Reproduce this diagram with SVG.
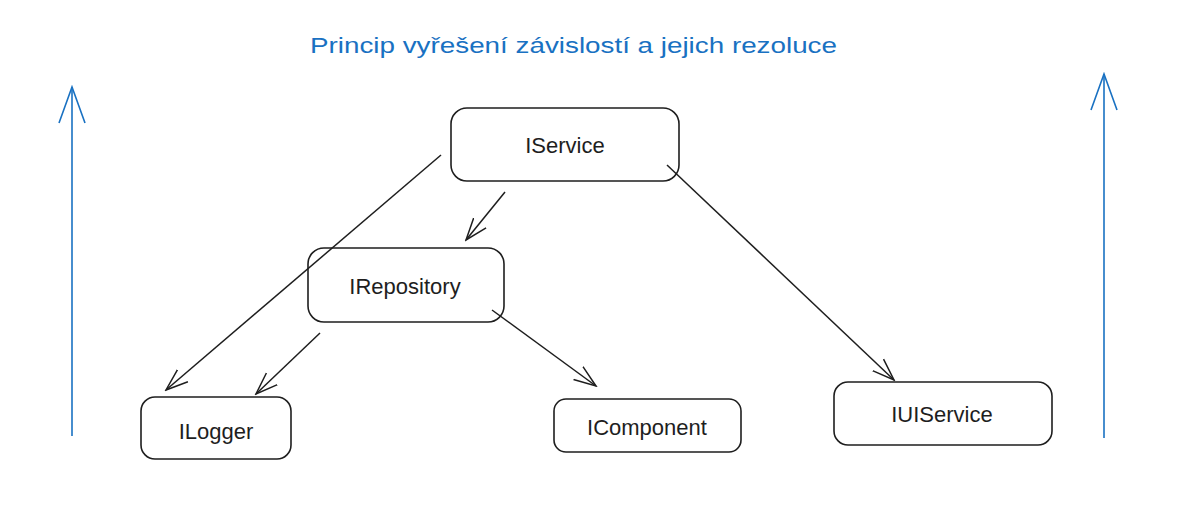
<svg xmlns="http://www.w3.org/2000/svg" width="1187" height="522" viewBox="0 0 1187 522">
<style>
.box{fill:none;stroke:#1e1e1e;stroke-width:1.6}
.lbl{font-family:"Liberation Sans","DejaVu Sans",sans-serif;font-size:22px;fill:#1e1e1e;text-anchor:middle;dominant-baseline:central}
.con{stroke:#1e1e1e;stroke-width:1.5;fill:none}
.blue{stroke:#1971c2;stroke-width:1.6;fill:none}
.title{font-family:"Liberation Sans","DejaVu Sans",sans-serif;font-size:22px;fill:#1971c2}
</style>
<defs>
<marker id="ah" viewBox="-22 -10 24 20" refX="0" refY="0" markerWidth="24" markerHeight="20" markerUnits="userSpaceOnUse" orient="auto">
<path d="M-22,-8 L0,0 L-22,8" fill="none" stroke="#1e1e1e" stroke-width="1.5"/>
</marker>
<marker id="bh" viewBox="-38 -14 40 28" refX="0" refY="0" markerWidth="40" markerHeight="28" markerUnits="userSpaceOnUse" orient="auto">
<path d="M-36,-13 L0,0 L-36,13" fill="none" stroke="#1971c2" stroke-width="1.6"/>
</marker>
</defs>
<rect width="1187" height="522" fill="#fff"/>
<text class="title" x="310" y="53" textLength="527" lengthAdjust="spacingAndGlyphs">Princip vyřešení závislostí a jejich rezoluce</text>
<g id="connectors">
<line class="con" x1="441" y1="155" x2="166" y2="390" marker-end="url(#ah)"/>
<line class="con" x1="505" y1="192" x2="466" y2="240" marker-end="url(#ah)"/>
<line class="con" x1="320" y1="333" x2="256" y2="394" marker-end="url(#ah)"/>
<line class="con" x1="492" y1="310" x2="596" y2="386" marker-end="url(#ah)"/>
<line class="con" x1="667" y1="165" x2="894" y2="380" marker-end="url(#ah)"/>
<line class="blue" x1="72" y1="436" x2="72" y2="87" marker-end="url(#bh)"/>
<line class="blue" x1="1104" y1="438" x2="1104" y2="74" marker-end="url(#bh)"/>
</g>
<g id="IService"><rect class="box" x="451" y="108" width="228" height="73" rx="16"/><text class="lbl" x="565" y="145">IService</text></g>
<g id="IRepository"><rect class="box" x="308" y="248" width="196" height="74" rx="16"/><text class="lbl" x="405" y="286">IRepository</text></g>
<g id="ILogger"><rect class="box" x="141" y="397" width="150" height="62" rx="14"/><text class="lbl" x="216" y="431">ILogger</text></g>
<g id="IComponent"><rect class="box" x="554" y="399" width="187" height="53" rx="12"/><text class="lbl" x="647" y="427">IComponent</text></g>
<g id="IUIService"><rect class="box" x="834" y="382" width="218" height="63" rx="14"/><text class="lbl" x="942" y="414">IUIService</text></g>
</svg>
